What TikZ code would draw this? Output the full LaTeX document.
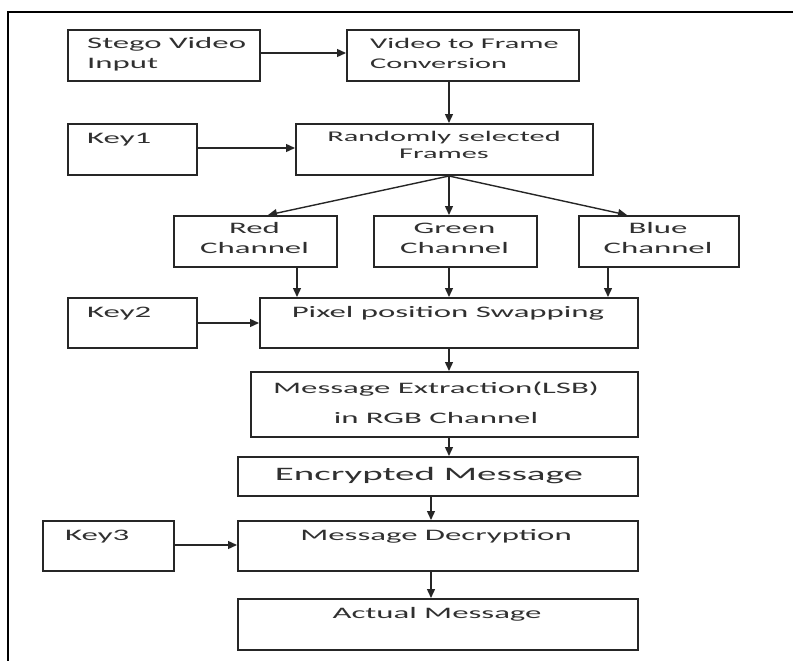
\documentclass[tikz,border=0pt]{standalone}
\usepackage{fontspec}
\setmainfont{Carlito}[FakeStretch=2.05]
\usetikzlibrary{arrows.meta}
\definecolor{ink}{HTML}{262626}
\definecolor{txtc}{HTML}{303030}
\begin{document}
\begin{tikzpicture}[x=1pt,y=-1pt,
  box/.style={draw=ink,line width=2pt,inner sep=0pt,anchor=north west},
  txt/.style={text=txtc,inner sep=0pt,font=\fontsize{16}{19.5}\selectfont},
  arr/.style={draw=ink,line width=1.4pt,-{Triangle[length=9pt,width=8pt]}}]
\useasboundingbox (0,0) rectangle (793,661);
% outer frame
\draw[line width=2.6pt,black] (793,12) -- (8,12) -- (8,661);
% boxes
\node[box,minimum width=192,minimum height=51] (stego) at (67,29) {};
\node[box,minimum width=232,minimum height=51] (vtf) at (346,29) {};
\node[box,minimum width=129,minimum height=51] (key1) at (67,123) {};
\node[box,minimum width=297,minimum height=51] (rand) at (295,123) {};
\node[box,minimum width=163,minimum height=51] (red) at (173,215) {};
\node[box,minimum width=163,minimum height=51] (green) at (373,215) {};
\node[box,minimum width=160,minimum height=51] (blue) at (578,215) {};
\node[box,minimum width=129,minimum height=50] (key2) at (67,297) {};
\node[box,minimum width=378,minimum height=50] (pix) at (259,297) {};
\node[box,minimum width=387,minimum height=65] (ext) at (250,371) {};
\node[box,minimum width=400,minimum height=39] (enc) at (237,456) {};
\node[box,minimum width=131,minimum height=50] (key3) at (42,520) {};
\node[box,minimum width=400,minimum height=50] (dec) at (237,520) {};
\node[box,minimum width=400,minimum height=51] (act) at (237,598) {};
% texts (anchor base = baseline of the last line)
\node[txt,anchor=base west,align=left] (stego-t) at (87,68.5) {Stego Video\\Input};
\node[txt,anchor=base west,align=left,font=\fontsize{14.8}{19.5}\selectfont] (vtf-t) at (370,68.5) {Video to Frame\\Conversion};
\node[txt,anchor=base west] (key1-t) at (87,143) {Key1};
\node[txt,anchor=base,align=center,font=\fontsize{14.8}{17.5}\selectfont] (rand-t) at (444,158.5) {Randomly selected\\Frames};
\node[txt,anchor=base,align=center,font=\fontsize{16}{20}\selectfont] (red-t) at (254.5,253) {Red\\Channel};
\node[txt,anchor=base,align=center,font=\fontsize{16}{20}\selectfont] (green-t) at (454.5,253) {Green\\Channel};
\node[txt,anchor=base,align=center,font=\fontsize{16}{20}\selectfont] (blue-t) at (658,253) {Blue\\Channel};
\node[txt,anchor=base west] (key2-t) at (87,317) {Key2};
\node[txt,anchor=base] (pix-t) at (448,317) {Pixel position Swapping};
\node[txt,anchor=base,align=center,font=\fontsize{16}{30}\selectfont] (ext-t) at (436,423) {Message Extraction(LSB)\\in RGB Channel};
\node[txt,anchor=base,font=\fontsize{19}{23}\selectfont] (enc-t) at (429,480) {Encrypted Message};
\node[txt,anchor=base west] (key3-t) at (65,540) {Key3};
\node[txt,anchor=base] (dec-t) at (436,540) {Message Decryption};
\node[txt,anchor=base] (act-t) at (437,618) {Actual Message};
% guide coordinates
\coordinate (c1) at (449,0);
\coordinate (c2) at (431,0);
\coordinate (cr) at (268,0);
\coordinate (cb) at (627,0);
\coordinate (cr2) at (297,0);
\coordinate (cb2) at (608,0);
% connectors
\draw[arr] ([yshift=2.5pt]stego.east) -- ([yshift=2.5pt]vtf.west);
\draw[arr] (vtf.south -| c1) -- (rand.north -| c1);
\draw[arr] ([yshift=1.5pt]key1.east) -- ([yshift=1.5pt]rand.west);
\draw[arr] (rand.south -| c1) -- (red.north -| cr);
\draw[arr] (rand.south -| c1) -- (green.north -| c1);
\draw[arr] (rand.south -| c1) -- (blue.north -| cb);
\draw[arr] (red.south -| cr2) -- (pix.north -| cr2);
\draw[arr] (green.south -| c1) -- (pix.north -| c1);
\draw[arr] (blue.south -| cb2) -- (pix.north -| cb2);
\draw[arr] (key2.east) -- (pix.west);
\draw[arr] (pix.south -| c1) -- (ext.north -| c1);
\draw[arr] (ext.south -| c1) -- (enc.north -| c1);
\draw[arr] (enc.south -| c2) -- (dec.north -| c2);
\draw[arr] ([yshift=1pt]key3.east) -- ([yshift=1pt]dec.west);
\draw[arr] (dec.south -| c2) -- (act.north -| c2);
\end{tikzpicture}
\end{document}
